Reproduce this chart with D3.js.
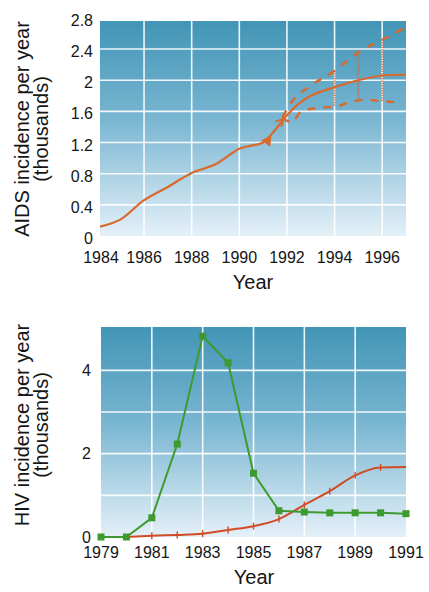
<!DOCTYPE html>
<html><head><meta charset="utf-8">
<script src="https://cdn.jsdelivr.net/npm/d3@7/dist/d3.min.js"></script>
<style>
html,body{margin:0;padding:0;background:#fff;}
svg{display:block;font-family:"Liberation Sans",Arial,Helvetica,sans-serif;}
</style></head>
<body>
<svg id="c" width="429" height="592"></svg>
<script>
// ---------- Top chart data (AIDS incidence) ----------
const aidsYears   = [1984.15, 1985, 1986, 1987, 1988, 1989, 1990, 1990.5, 1991, 1991.5, 1992, 1992.5, 1993, 1994, 1995, 1996, 1997];
const aidsValues  = [0.12, 0.21, 0.46, 0.63, 0.81, 0.92, 1.12, 1.16, 1.2, 1.36, 1.55, 1.70, 1.80, 1.91, 2.0, 2.06, 2.07];
const upperYears  = [1991.8, 1992.2, 1993, 1994, 1995, 1996, 1997];
const upperValues = [1.52, 1.72, 1.93, 2.12, 2.36, 2.52, 2.68];
const lowerYears  = [1991.8, 1992.2, 1992.6, 1993.5, 1994, 1994.8, 1995.3, 1996, 1996.5];
const lowerValues = [1.52, 1.46, 1.60, 1.65, 1.66, 1.73, 1.75, 1.73, 1.72];
const rangeYears  = [1994, 1995, 1996];
const rangeHigh   = [2.12, 2.36, 2.52];
const rangeLow    = [1.66, 1.75, 1.73];
const topXTicks   = [1984, 1986, 1988, 1990, 1992, 1994, 1996];
const topYTicks   = [0, 0.4, 0.8, 1.2, 1.6, 2, 2.4, 2.8];
const topYTickLabels = ["0", "0.4", "0.8", "1.2", "1.6", "2", "2.4", "2.8"];

// ---------- Bottom chart data (HIV incidence) ----------
const hivYears    = [1979, 1980, 1981, 1982, 1983, 1984, 1985, 1986, 1987, 1988, 1989, 1990, 1991];
const hivValues   = [0, 0, 0.46, 2.23, 4.82, 4.18, 1.53, 0.63, 0.6, 0.58, 0.58, 0.58, 0.56];
const aids2Years  = [1980, 1981, 1982, 1983, 1984, 1985, 1986, 1987, 1988, 1989, 1990, 1991];
const aids2Values = [0, 0.03, 0.05, 0.08, 0.17, 0.26, 0.43, 0.77, 1.1, 1.48, 1.67, 1.68];
const aids2Marked = [1981, 1982, 1983, 1984, 1985, 1986, 1987, 1988, 1989, 1990];
const botXTicks   = [1979, 1981, 1983, 1985, 1987, 1989, 1991];
const botYTicks   = [0, 2, 4];
const botYGrid    = [1, 2, 3, 4];

const svg = d3.select("#c");
const defs = svg.append("defs");
function grad(id){
  const g = defs.append("linearGradient").attr("id", id).attr("x1",0).attr("y1",0).attr("x2",0).attr("y2",1);
  g.append("stop").attr("offset","0%").attr("stop-color","#4295b6");
  g.append("stop").attr("offset","45%").attr("stop-color","#78b5d1");
  g.append("stop").attr("offset","100%").attr("stop-color","#e4f0f8");
}
grad("g1"); grad("g2");

const tickFont = 16, titleFont = 20, txtColor = "#151515";

// ================= TOP =================
const x1 = d3.scaleLinear().domain([1984.15, 1997]).range([100, 406]);
const y1 = d3.scaleLinear().domain([0, 2.76]).range([236, 21]);
const gTop = svg.append("g");
gTop.append("rect").attr("x", x1.range()[0]).attr("y", y1.range()[1])
  .attr("width", x1.range()[1]-x1.range()[0]).attr("height", y1.range()[0]-y1.range()[1])
  .attr("fill","url(#g1)");
gTop.selectAll("line.vg").data(topXTicks.filter(d => d > 1984.15)).enter().append("line")
  .attr("x1", d=>x1(d)).attr("x2", d=>x1(d)).attr("y1", y1.range()[1]).attr("y2", y1.range()[0])
  .attr("stroke","#fff").attr("stroke-opacity",0.9).attr("stroke-width",1.6);
gTop.selectAll("line.hg").data(topYTicks.filter(d => d > 0 && d < 2.76)).enter().append("line")
  .attr("y1", d=>y1(d)).attr("y2", d=>y1(d)).attr("x1", x1.range()[0]).attr("x2", x1.range()[1])
  .attr("stroke","#fff").attr("stroke-opacity",0.9).attr("stroke-width",1.6);
gTop.selectAll("text.yt").data(topYTicks).enter().append("text")
  .attr("x", 93).attr("y", d=>y1(d)).attr("dy","0.5em").attr("text-anchor","end")
  .attr("font-size", tickFont).attr("fill", txtColor).text((d,i)=>topYTickLabels[i]);
gTop.selectAll("text.xt").data(topXTicks).enter().append("text")
  .attr("x", d=>Math.max(x1(d), 101)).attr("y", 263).attr("text-anchor","middle")
  .attr("font-size", tickFont).attr("fill", txtColor).text(d=>d);
gTop.append("text").attr("x", 253).attr("y", 289).attr("text-anchor","middle")
  .attr("font-size", titleFont).attr("fill", txtColor).text("Year");
gTop.append("text").attr("transform","translate(29,129) rotate(-90)").attr("text-anchor","middle")
  .attr("font-size", titleFont).attr("fill", txtColor).text("AIDS incidence per year");
gTop.append("text").attr("transform","translate(48,129) rotate(-90)").attr("text-anchor","middle")
  .attr("font-size", titleFont).attr("fill", txtColor).text("(thousands)");

const orange = "#d9692c";
const line1 = d3.line().x(d=>x1(d[0])).y(d=>y1(d[1])).curve(d3.curveMonotoneX);
const line1Lin = d3.line().x(d=>x1(d[0])).y(d=>y1(d[1])).curve(d3.curveCatmullRom.alpha(0.5));
gTop.selectAll("line.rng").data(rangeYears).enter().append("line")
  .attr("x1", d=>x1(d)).attr("x2", d=>x1(d))
  .attr("y1", (d,i)=>y1(rangeHigh[i])).attr("y2", (d,i)=>y1(rangeLow[i]))
  .attr("stroke", orange).attr("stroke-width",2).attr("stroke-dasharray","1.2,1.2").attr("opacity",0.85);
gTop.append("path").datum(upperYears.map((d,i)=>[d, upperValues[i]])).attr("d", line1)
  .attr("fill","none").attr("stroke", orange).attr("stroke-width",2.4).attr("stroke-dasharray","8,8");
gTop.append("path").datum(lowerYears.map((d,i)=>[d, lowerValues[i]])).attr("d", line1)
  .attr("fill","none").attr("stroke", orange).attr("stroke-width",2.4).attr("stroke-dasharray","8,8");
gTop.append("path").datum(aidsYears.map((d,i)=>[d, aidsValues[i]])).attr("d", line1Lin)
  .attr("fill","none").attr("stroke", orange).attr("stroke-width",2.2);
function arrow(yr, val, ang, filled){
  const px = x1(yr), py = y1(val);
  gTop.append("path").attr("d","M0,0 L7,-4 M0,0 L7,4" + (filled ? " L7,-4 Z" : ""))
    .attr("transform",`translate(${px},${py}) rotate(${ang})`)
    .attr("fill", filled ? orange : "none").attr("stroke", orange).attr("stroke-width",1.8);
}
arrow(1991.3, 1.27, 125, true);
arrow(1991.85, 1.5, 135, false);

// ================= BOTTOM =================
const x2 = d3.scaleLinear().domain([1979, 1991]).range([101, 406]);
const y2 = d3.scaleLinear().domain([0, 5.04]).range([537, 327]);
const gBot = svg.append("g");
gBot.append("rect").attr("x", x2.range()[0]).attr("y", y2.range()[1])
  .attr("width", x2.range()[1]-x2.range()[0]).attr("height", y2.range()[0]-y2.range()[1])
  .attr("fill","url(#g2)");
gBot.selectAll("line.vg").data(botXTicks.filter(d => d > 1979 && d < 1991)).enter().append("line")
  .attr("x1", d=>x2(d)).attr("x2", d=>x2(d)).attr("y1", y2.range()[1]).attr("y2", y2.range()[0])
  .attr("stroke","#fff").attr("stroke-opacity",0.9).attr("stroke-width",1.6);
gBot.selectAll("line.hg").data(botYGrid).enter().append("line")
  .attr("y1", d=>y2(d)).attr("y2", d=>y2(d)).attr("x1", x2.range()[0]).attr("x2", x2.range()[1])
  .attr("stroke","#fff").attr("stroke-opacity",0.9).attr("stroke-width",1.6);
gBot.selectAll("text.yt").data(botYTicks).enter().append("text")
  .attr("x", 91).attr("y", d=>y2(d)).attr("dy","0.36em").attr("text-anchor","end")
  .attr("font-size", tickFont).attr("fill", txtColor).text(d=>d);
gBot.selectAll("text.xt").data(botXTicks).enter().append("text")
  .attr("x", d=>x2(d)).attr("y", 558).attr("text-anchor","middle")
  .attr("font-size", tickFont).attr("fill", txtColor).text(d=>d);
gBot.append("text").attr("x", 254).attr("y", 584).attr("text-anchor","middle")
  .attr("font-size", titleFont).attr("fill", txtColor).text("Year");
gBot.append("text").attr("transform","translate(29,425) rotate(-90)").attr("text-anchor","middle")
  .attr("font-size", titleFont).attr("fill", txtColor).text("HIV incidence per year");
gBot.append("text").attr("transform","translate(48,425) rotate(-90)").attr("text-anchor","middle")
  .attr("font-size", titleFont).attr("fill", txtColor).text("(thousands)");

const red = "#d24b24", green = "#3e9a2e";
const lineMono = d3.line().x(d=>x2(d[0])).y(d=>y2(d[1])).curve(d3.curveMonotoneX);
const lineLin = d3.line().x(d=>x2(d[0])).y(d=>y2(d[1]));
const a2 = aids2Years.map((d,i)=>[d, aids2Values[i]]);
gBot.append("path").datum(a2).attr("d", lineMono)
  .attr("fill","none").attr("stroke", red).attr("stroke-width",2);
gBot.selectAll("line.rm").data(a2.filter(d=>aids2Marked.includes(d[0]))).enter().append("line")
  .attr("x1", d=>x2(d[0])).attr("x2", d=>x2(d[0])).attr("y1", d=>y2(d[1])-3.5).attr("y2", d=>y2(d[1])+3.5)
  .attr("stroke", red).attr("stroke-width",1.4);
const h = hivYears.map((d,i)=>[d, hivValues[i]]);
gBot.append("path").datum(h).attr("d", lineLin)
  .attr("fill","none").attr("stroke", green).attr("stroke-width",2);
gBot.selectAll("rect.sq").data(h).enter().append("rect")
  .attr("x", d=>x2(d[0])-3.5).attr("y", d=>y2(d[1])-3.5).attr("width",7).attr("height",7)
  .attr("fill", green);
</script>
</body></html>
